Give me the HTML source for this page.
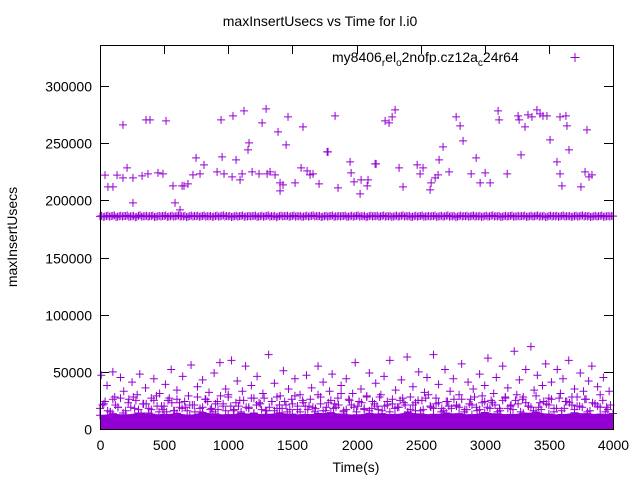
<!DOCTYPE html>
<html><head><meta charset="utf-8"><style>
body{margin:0;background:#fff}
svg{display:block;font-family:"Liberation Sans",sans-serif}
</style></head><body>
<svg id="chart" width="640" height="480">
<rect x="0" y="0" width="640" height="480" fill="#fff"/>
<text x="320" y="26" text-anchor="middle" font-size="14">maxInsertUsecs vs Time for l.i0</text>
<text transform="translate(17,237) rotate(-90)" text-anchor="middle" font-size="14">maxInsertUsecs</text>
<text x="356" y="472" text-anchor="middle" font-size="14">Time(s)</text>
<g id="axes"></g>
<g id="marks"></g>
<rect x="100.5" y="45.5" width="513" height="384" fill="none" stroke="#000"/>
<text x="332" y="62" font-size="14">my8406<tspan font-size="10" dy="4">r</tspan><tspan dy="-4">el</tspan><tspan font-size="10" dy="4">o</tspan><tspan dy="-4">2nofp.cz12a</tspan><tspan font-size="10" dy="4">c</tspan><tspan dy="-4">24r64</tspan></text>
<path d="M570.5 57.5h9M575 53v9" stroke="#9400d3"/>
</svg>
<script>
const yTicks=[0,50000,100000,150000,200000,250000,300000];
const xTicks=[0,500,1000,1500,2000,2500,3000,3500,4000];
const highT=[39,62,101,133,179,211,257,328,179,257,374,452,359,390,491,515,569,585,624,640,655,686,725,749,780,811,913,952,944,1030,1037,967,1108,1123,1154,1061,1092,1162,1264,1303,1240,1186,1295,1326,1365,1404,1404,1427,1388,1451,1466,1521,1568,1583,1615,1638,1661,1708,1771,1778,1833,1856,1958,1950,1981,2028,2036,2083,2090,2145,2153,2223,2254,2278,2301,2363,2332,2473,2496,2519,2574,2582,2613,2644,2636,2675,2722,2777,2808,2831,2894,2933,2964,3003,3042,3112,3104,3175,3268,3260,3283,3314,3337,3368,3407,3431,3454,3485,3509,3563,3587,3633,3641,3657,3587,3602,3750,3797,3782,3813,3836];
const highV=[222000,211750,211750,222000,219600,228400,219600,221400,266000,197750,223100,224000,270400,270400,223100,269500,212600,197750,191600,212600,212600,214400,222250,237100,223100,231000,224900,238000,270400,220500,273900,223100,223100,278250,244100,235400,217900,250250,267750,223100,223100,224900,280000,224900,222250,208250,215250,213500,259900,248500,273000,215250,228400,264250,225750,222250,223100,214400,242400,242400,273900,210900,224000,233600,216100,205600,217900,212600,217900,231900,231900,269500,267750,273000,279100,211750,228400,231000,223100,228400,209100,215250,219600,235400,222250,246750,224900,273000,265100,252000,223100,237100,215250,224000,215250,270400,278250,223100,270400,273900,239750,264250,274750,273000,279100,275600,273900,273900,252900,233600,273000,273900,265100,244100,223100,212600,211750,261600,224900,220500,222250];
const rowV=[186000,185500,186200,185800,186400,185300,186100,185900,186300,185600,186000,185200,186500,185700,186100,185800,186200,185400,186000,185900,186300,185500,186100,185700,186400,185800,186000,185300,186200,185900,186100,185600,186300,185800,186000,185500,186200,185700,186400,185900,186000,185400,186100,185800,186300,185600,186000,185900,186200,185500,186100,185700,186400,185800,186000,185300,186200,185900,186100,185600,186300,185800,186000,185500,186200,185700,186400,185900,186000,185400,186100,185800,186300,185600,186000,185900,186200,185500,186100,185700,186400,185800,186000,185300,186200,185900,186100,185600,186300,185800,186000,185500,186200,185700,186400,185900,186000,185400,186100,185800,186300,185600,186000,185900,186200,185500,186100,185700,186400,185800,186000,185300,186200,185900,186100,185600,186300,185800,186000,185500,186200,185700,186400,185900,186000,185400,186100,185800,186300,185600,186000,185900,186200,185500,186100,185700,186400,185800,186000,185300,186200,185900,186100,185600,186300,185800,186000,185500,186200,185700,186400,185900,186000,185400,186100,185800,186300,185600,186000,185900,186200,185500,186100,185700];
const bandV=[12000,13500,12500,14000,13000,12800,13800,12200,14500,13200,12600,13900,13300,12900,14200,13000,12700,13600,14300,13100,12500,13800,13400,12800,14600,13200,12900,14000,13500,12600,14400,13300,12800,13900,14800,13100,12700,14200,13400,13000,13600];
const lowV=[18000,24000,15000,21000,27000,16000,19000,25000,14000,22000,17000,29000,20000,15000,23000,26000,18000,16000,21000,28000,19000,24000,15000,17000,22000,30000,16000,20000,25000,18000,14000,23000,27000,19000,16000,21000,24000,17000,29000,15000,20000,26000,18000,22000,16000,25000,19000,31000,17000,21000,15000,23000,28000,18000,20000,16000,24000,22000,19000,27000,15000,21000,25000,17000,30000,18000,23000,16000,20000,26000,19000,15000,22000,28000,17000,24000,18000,21000,16000,27000,20000,25000,15000,23000,19000,29000,17000,22000,26000,18000,16000,24000,21000,28000,19000,15000,23000,20000,25000,17000];
const lowV2=[21000,16000,26000,19000,14000,23000,28000,17000,22000,18000,25000,15000,20000,27000,16000,19000,24000,21000,15000,18000,26000,17000,22000,29000,16000,20000,23000,15000,19000,27000,21000,17000,16000,24000,28000,18000,15000,22000,20000,25000,17000,19000,30000,16000,23000,18000,21000,15000,26000,19000,24000,17000,16000,22000,28000,20000,15000,18000,25000,21000,17000,23000,16000,27000,19000,22000,15000,24000,18000,20000,26000,17000,21000,16000,29000,19000,23000,15000,25000,18000,17000,22000,28000,20000,16000,19000,24000,21000,15000,27000,18000,23000,17000,20000,26000,16000,22000,19000,15000,21000];
const midT=[10,30,55,80,100,115,140,160,185,200,225,250,270,290,310,335,355,380,400,420,445,465,490,510,530,555,575,600,620,645,665,690,710,735,760,780,800,825,850,870,890,915,935,960,980,1000,1025,1045,1070,1090,1110,1135,1160,1180,1200,1225,1250,1270,1290,1315,1340,1360,1380,1405,1430,1450,1470,1495,1520,1540,1560,1585,1610,1630,1650,1675,1700,1720,1740,1765,1790,1810,1830,1855,1880,1900,1920,1945,1970,1990,2010,2035,2060,2080,2100,2125,2150,2170,2190,2215,2240,2260,2280,2305,2330,2350,2370,2395,2420,2440,2460,2485,2510,2530,2550,2575,2600,2620,2640,2665,2690,2710,2730,2755,2780,2800,2820,2845,2870,2890,2910,2935,2960,2980,3000,3025,3050,3070,3090,3115,3140,3160,3180,3205,3230,3250,3270,3295,3320,3340,3360,3385,3410,3430,3450,3475,3500,3520,3540,3565,3590,3610,3630,3655,3680,3700,3720,3745,3770,3790,3810,3835,3860,3880,3900,3925,3950,3970,3990];
const midV=[47000,22000,38000,15000,50000,28000,19000,45000,33000,12000,26000,41000,18000,30000,48000,22000,36000,14000,27000,44000,20000,31000,17000,39000,25000,52000,16000,34000,23000,46000,19000,29000,56000,21000,37000,15000,43000,26000,32000,18000,49000,24000,58000,20000,35000,28000,60000,17000,42000,25000,33000,55000,19000,38000,27000,46000,22000,31000,16000,65000,24000,40000,18000,29000,51000,21000,35000,26000,44000,17000,30000,23000,47000,20000,36000,15000,55000,28000,41000,19000,33000,48000,22000,27000,38000,16000,44000,25000,31000,58000,20000,35000,18000,29000,49000,24000,40000,17000,30000,46000,21000,60000,26000,34000,19000,43000,23000,63000,28000,37000,16000,50000,25000,32000,45000,20000,65000,27000,39000,18000,52000,24000,33000,44000,21000,30000,57000,17000,41000,26000,35000,19000,48000,23000,38000,62000,25000,31000,45000,18000,55000,28000,36000,21000,68000,30000,43000,26000,52000,20000,72000,34000,47000,23000,38000,57000,27000,41000,18000,52000,31000,44000,24000,60000,28000,35000,20000,49000,33000,26000,42000,55000,22000,37000,30000,45000,19000,33000];
const W=513,H=384,X0=100,Y0=429;
const sx=t=>X0+t*W/4000, sy=v=>Y0-v*343/300000;
const NS='http://www.w3.org/2000/svg';
const axes=document.getElementById('axes'), marks=document.getElementById('marks');
function mk(tag,attrs,parent){const e=document.createElementNS(NS,tag);for(const k in attrs)e.setAttribute(k,attrs[k]);parent.appendChild(e);return e;}
yTicks.forEach(v=>{const y=Math.round(sy(v))+0.5;
 const l=mk('path',{d:`M100 ${y}h9M613 ${y}h-9`,stroke:'#000'},axes);
 
 
 const t=mk('text',{x:92,y:y+5,'text-anchor':'end','font-size':14},axes);t.textContent=v;
 
 });
xTicks.forEach(v=>{const x=Math.round(sx(v))+0.5;
 const l=mk('path',{d:`M${x} 429v-9M${x} 45v9`,stroke:'#000'},axes);
 
 
 const t=mk('text',{x:x,y:450,'text-anchor':'middle','font-size':14},axes);t.textContent=v;
 
 });
let d=`M${sx(0)} ${sy(0)}`;bandV.forEach((v,i)=>{d+=`L${sx(i*100)} ${sy(v)}`;});d+=`L${sx(4000)} ${sy(0)}Z`;
const band=mk('path',{d:d,fill:'#9400d3'},marks);


function plus(t,v,name){if(t>4000)return;const x=sx(t),y=sy(v);
 const p=mk('path',{d:`M${x-4} ${y}h8M${x} ${y-4}v8`,stroke:'#9400d3','stroke-width':1},marks);
 
 }
bandV.forEach((v,i)=>plus(i*100,v,'point-band'));
lowV.forEach((v,i)=>plus(i*40,v,'point-low'));
lowV2.forEach((v,i)=>plus(i*40+20,v,'point-low'));
rowV.forEach((v,i)=>{plus(i*25,v,'point-row');plus(i*25+12,v+400,'point-row');});
highT.forEach((t,i)=>plus(t,highV[i],'point-high'));
midT.forEach((t,i)=>plus(t,midV[i],'point-mid'));
</script>
</body></html>
